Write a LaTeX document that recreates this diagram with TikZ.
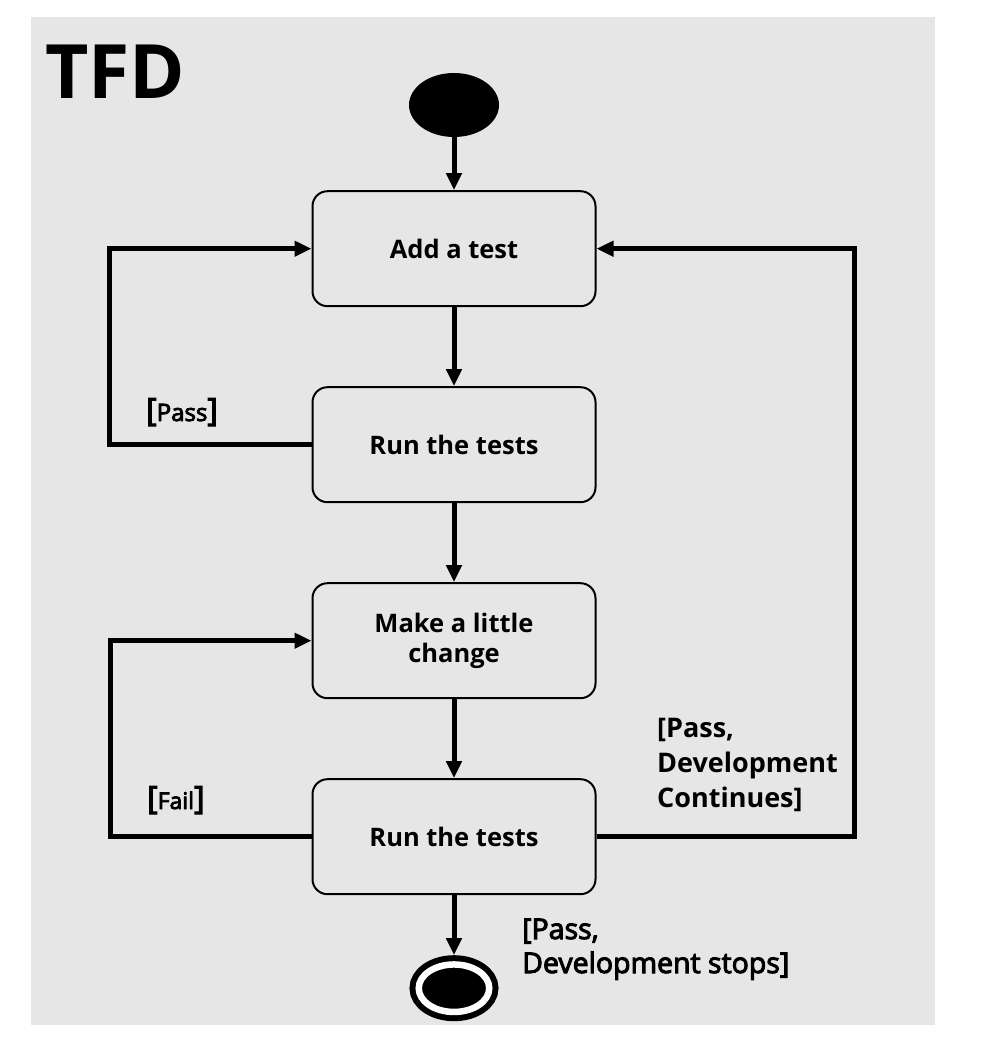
\documentclass[tikz,border=0pt]{standalone}
\usepackage{fontspec}
\setmainfont{Open Sans}
\newfontfamily\guardfont{Open Sans}[FakeBold=3.5]
\usetikzlibrary{shapes.geometric, positioning, arrows.meta}
\definecolor{bggray}{RGB}{230,230,230}
\tikzset{
  activity/.style={rectangle, rounded corners=15pt, minimum width=283pt, minimum height=115pt, align=center, draw=black, line width=2pt, font=\fontsize{25.5}{30}\selectfont\bfseries},
  initial/.style={ellipse, fill=black, minimum width=90pt, minimum height=64pt, inner sep=0pt},
  final/.style={ellipse, fill=black, draw=black, double=white, line width=6pt, double distance=6.5pt, minimum width=70.5pt, minimum height=47.5pt, inner sep=0pt, outer sep=9.25pt},
  guard/.style={align=left, inner sep=0pt, font=\fontsize{27}{34}\selectfont},
  arrow/.style={line width=5pt, -{Triangle[length=17pt,width=15pt]}}
}
\newcommand{\bigbr}[1]{{\fontsize{32}{32}\selectfont #1}}
\begin{document}
\begin{tikzpicture}[x=1pt, y=-1pt, node distance=79pt]
        \useasboundingbox (0,0) rectangle (997,1053);
        \fill[bggray] (31,17) rectangle (935,1025);
        \node (title) [anchor=base west, inner sep=0pt, font=\fontsize{75}{75}\selectfont\bfseries] at (45,98) {TFD};

        \node (start) [initial] at (454,105) {};
        \node (add) [activity, below=53pt of start] {Add a test};
        \node (run1) [activity, below=of add] {Run the tests};
        \node (change) [activity, below=of run1] {Make a little\\change};
        \node (run2) [activity, below=of change] {Run the tests};
        \node (stop) [final, below=60pt of run2] {};

        % Bedingungen an den Schleifen
        \node (passlbl) [anchor=base west, inner sep=0pt, font=\fontsize{24}{24}\selectfont\guardfont] at (146,421) {\bigbr{[}Pass\bigbr{]}};
        \node (faillbl) [anchor=base west, inner sep=0pt, font=\fontsize{23}{23}\selectfont\guardfont] at (147,809) {\bigbr{[}Fail\bigbr{]}};
        \node (contlbl) [guard, anchor=base west, font=\fontsize{27}{35}\selectfont\bfseries] at (657,807) {[Pass,\\Development\\Continues]};
        \node (stoplbl) [guard, anchor=base west, font=\fontsize{28.5}{34}\selectfont\guardfont] at (522,973) {[Pass,\\Development stops]};

        % Hauptfluss
        \draw [arrow] (start) -- (add);
        \draw [arrow] (add) -- (run1);
        \draw [arrow] (run1) -- (change);
        \draw [arrow] (change) -- (run2);
        \draw [arrow] (run2) -- (stop);

        % Rueckfuehrungen
        \draw [arrow] (run1.west) -- ++(-202,0) |- (add.west);
        \draw [arrow] (run2.west) -- ++(-201,0) |- (change.west);
        \draw [arrow] (run2.east) -- ++(258,0) |- (add.east);
    \end{tikzpicture}
\end{document}
